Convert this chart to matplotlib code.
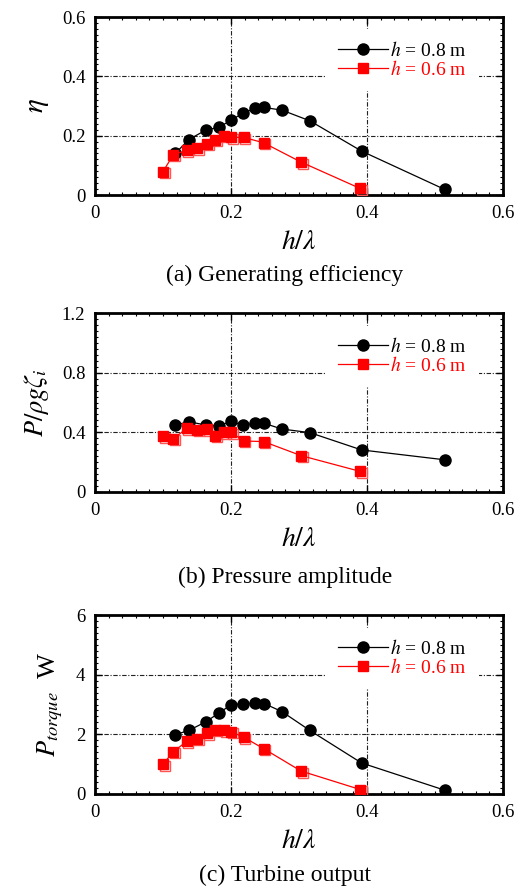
import matplotlib
matplotlib.use("Agg")
import matplotlib.pyplot as plt
from matplotlib.ticker import MultipleLocator, FixedLocator, FixedFormatter
from matplotlib.transforms import offset_copy

plt.rcParams['font.family'] = ['Liberation Serif', 'DejaVu Serif']
plt.rcParams['mathtext.fontset'] = 'stix'

# h/lambda values
x_08 = [0.118, 0.138, 0.163, 0.182, 0.200, 0.217, 0.235, 0.249, 0.275, 0.316, 0.392, 0.514]
x_06 = [0.100, 0.115, 0.135, 0.150, 0.165, 0.177, 0.190, 0.200, 0.219, 0.248, 0.303, 0.390]

# (a) generating efficiency
eta_08 = [0.140, 0.187, 0.219, 0.228, 0.252, 0.275, 0.292, 0.295, 0.286, 0.250, 0.148, 0.019]
eta_06 = [0.079, 0.135, 0.151, 0.157, 0.172, 0.187, 0.199, 0.194, 0.194, 0.176, 0.111, 0.022]

# (b) pressure amplitude
p_08 = [0.449, 0.471, 0.449, 0.444, 0.473, 0.449, 0.460, 0.460, 0.422, 0.398, 0.282, 0.216]
p_06 = [0.373, 0.356, 0.427, 0.416, 0.422, 0.378, 0.400, 0.400, 0.342, 0.338, 0.244, 0.138]

# (c) turbine output
w_08 = [1.99, 2.13, 2.42, 2.71, 2.99, 3.03, 3.04, 3.03, 2.76, 2.13, 1.04, 0.13]
w_06 = [1.00, 1.41, 1.77, 1.85, 2.04, 2.16, 2.13, 2.09, 1.90, 1.52, 0.77, 0.15]

labels = [r'$h$ = 0.8 m', r'$h$ = 0.6 m']
captions = ['(a) Generating efficiency', '(b) Pressure amplitude', '(c) Turbine output']
ylabels = [r'$\eta$', r'$P/\rho g\zeta_i$', r'$P_{torque}$  W']
ylims = [(0, 0.6), (0, 1.2), (0, 6)]
yticks = [[0, 0.2, 0.4, 0.6], [0, 0.4, 0.8, 1.2], [0, 2, 4, 6]]
ytick_labels = [['0', '0.2', '0.4', '0.6'], ['0', '0.4', '0.8', '1.2'], ['0', '2', '4', '6']]
xticks = [0, 0.2, 0.4, 0.6]
xtick_labels = ['0', '0.2', '0.4', '0.6']

fig = plt.figure(figsize=(5.2, 8.9), dpi=100)
W, H = 520, 890
tops = [17, 313, 615]
bottoms = [195, 492, 794]
cap_y = [275, 577, 875]
data = [(eta_08, eta_06), (p_08, p_06), (w_08, w_06)]

for i in range(3):
    ax = fig.add_axes([95 / W, 1 - bottoms[i] / H, 408 / W, (bottoms[i] - tops[i]) / H])
    y08, y06 = data[i]
    ax.set_xlim(0, 0.6)
    ax.set_ylim(*ylims[i])
    ax.xaxis.set_major_locator(FixedLocator(xticks))
    ax.xaxis.set_major_formatter(FixedFormatter(xtick_labels))
    ax.xaxis.set_minor_locator(MultipleLocator(0.02))
    ax.yaxis.set_major_locator(FixedLocator(yticks[i]))
    ax.yaxis.set_major_formatter(FixedFormatter(ytick_labels[i]))
    ax.yaxis.set_minor_locator(MultipleLocator((yticks[i][1] - yticks[i][0]) / 10))
    ax.grid(True, which='major', color='#222222', linestyle=(0, (4, 1.5, 1, 1.5)), linewidth=0.8)
    ax.tick_params(which='both', direction='in', top=True, right=True, labelsize=13.5, pad=7)
    ax.tick_params(which='major', length=5, width=1)
    ax.tick_params(which='minor', length=2.5, width=0.8)
    for s in ax.spines.values():
        s.set_linewidth(2)
    ax.set_axisbelow(True)

    # shadow outlines of red squares
    shadow = offset_copy(ax.transData, fig=fig, x=1.5, y=-1.5, units='dots')
    ax.plot(x_06, y06, linestyle='none', marker='s', markersize=7.5,
            markerfacecolor='none', markeredgecolor='#ff5555', markeredgewidth=1.0,
            transform=shadow, zorder=3)
    ax.plot(x_08, y08, color='black', linewidth=0.9, marker='o', markersize=8,
            markerfacecolor='black', markeredgecolor='black', label=labels[0], zorder=4)
    ax.plot(x_06, y06, color='#ff0000', linewidth=0.9, marker='s', markersize=7,
            markerfacecolor='#ff0000', markeredgecolor='#ff0000', label=labels[1], zorder=4)

    leg = ax.legend(loc='upper right', bbox_to_anchor=(0.94, 0.93), fontsize=14,
                    frameon=True, facecolor='white', edgecolor='none', framealpha=1,
                    handlelength=2.6, handletextpad=0.1, borderpad=0.6,
                    labelspacing=0.0, borderaxespad=0)
    leg.get_frame().set_boxstyle('square', pad=0)
    for t, c in zip(leg.get_texts(), ['black', '#ff0000']):
        t.set_color(c)

    ax.set_xlabel(r'$h/\lambda$', fontsize=20, labelpad=6)
    ax.set_ylabel(ylabels[i], fontsize=21 if i == 0 else 19, labelpad=8)
    fig.text(285 / W, 1 - cap_y[i] / H, captions[i], ha='center', va='center', fontsize=17)

fig.savefig('out.png', dpi=100)
